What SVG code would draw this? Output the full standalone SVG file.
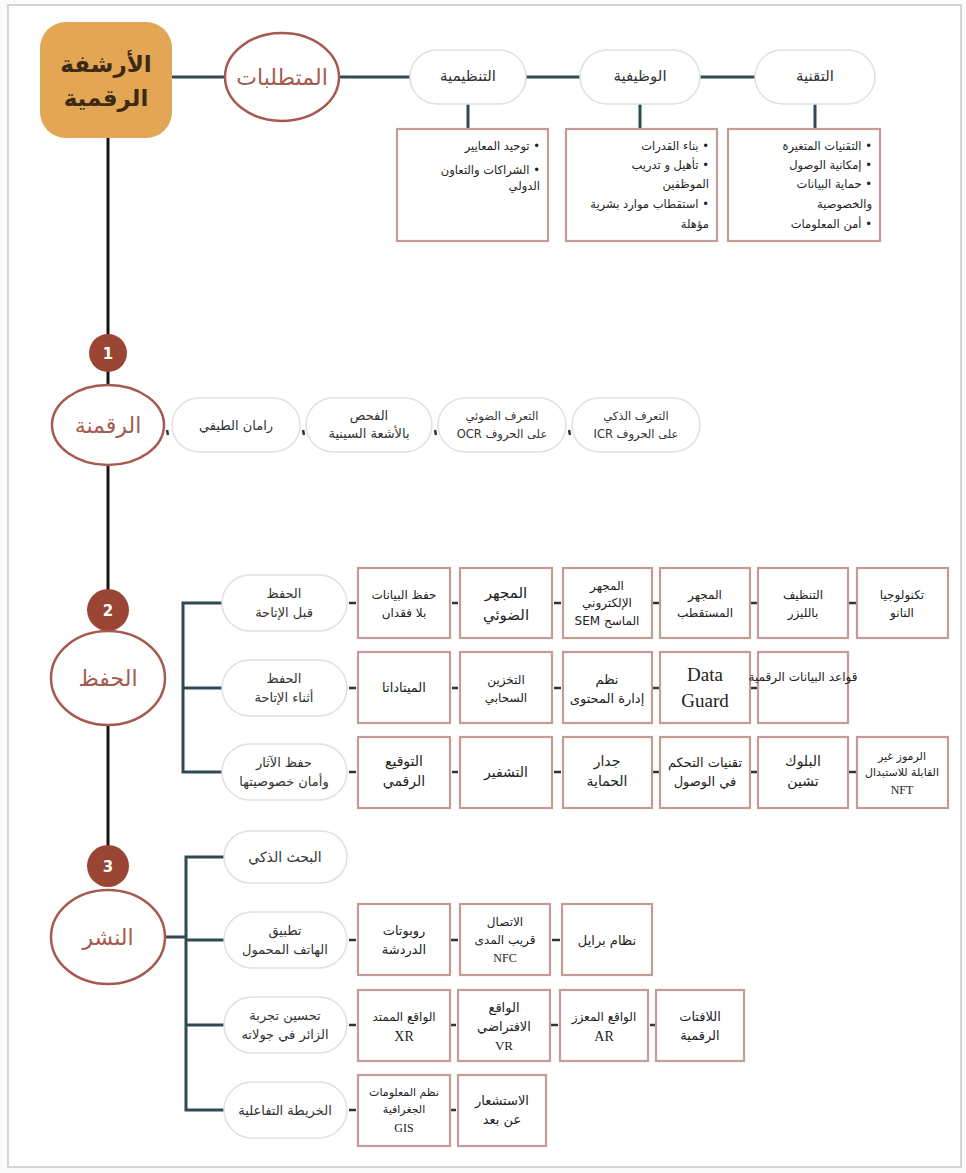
<svg xmlns="http://www.w3.org/2000/svg" width="966" height="1173" viewBox="0 0 966 1173">
<style>
text{font-family:"DejaVu Sans","Noto Sans",sans-serif;direction:rtl;text-anchor:middle}
.t{fill:#222;font-size:12px}
.p{fill:#333;font-size:13px}
.lat{font-family:"Liberation Serif",serif}
.pill{fill:#fff;stroke:#e0e0e0;stroke-width:1.5}
.box{fill:#fff;stroke:#c49b95;stroke-width:2.2}
.ell{fill:#fff;stroke:#a65a4f;stroke-width:2.5}
.et{fill:#a65a4f;font-size:22px}
.num{fill:#9b4634}
.nt{fill:#fff;font-size:15px;font-weight:bold}
.c{stroke:#2f4a53;stroke-width:3;fill:none}
.d{stroke:#333;stroke-width:2.5}
.sp{stroke:#151515;stroke-width:3}
.rq{font-size:11.5px;fill:#222;text-anchor:start}
</style>
<rect x="0" y="0" width="966" height="1173" fill="#fafafa"/>
<rect x="8" y="5" width="953" height="1162" fill="#fff" stroke="#d4d4d4" stroke-width="2"/>

<g id="connectors">
<line class="sp" x1="108" y1="138" x2="108" y2="866"/>
<line class="c" x1="172" y1="77" x2="225" y2="77"/>
<line class="c" x1="339" y1="77" x2="410" y2="77"/>
<line class="c" x1="526" y1="77" x2="580" y2="77"/>
<line class="c" x1="700" y1="77" x2="755" y2="77"/>
<line class="c" x1="468" y1="104" x2="468" y2="129"/>
<line class="c" x1="640" y1="104" x2="640" y2="129"/>
<line class="c" x1="815" y1="104" x2="815" y2="129"/>
<!-- digitization ticks -->
<line class="d" x1="167" y1="430" x2="168" y2="435"/>
<line class="d" x1="303" y1="430" x2="304" y2="435"/>
<line class="d" x1="435" y1="430" x2="436" y2="435"/>
<line class="d" x1="569" y1="430" x2="570" y2="435"/>
<!-- preservation bracket -->
<path class="c" d="M222 603 H183 V772 H222 M183 688 H222"/>
<!-- publishing bracket -->
<path class="c" d="M224 857 H186 V1110 H224 M186 940 H224 M186 1025 H224 M165 937 H186"/>
<!-- dashes rows -->
<g class="d">
<line x1="349" y1="603" x2="356" y2="603"/><line x1="452" y1="603" x2="458" y2="603"/><line x1="554" y1="603" x2="561" y2="603"/><line x1="653" y1="603" x2="659" y2="603"/><line x1="751" y1="603" x2="757" y2="603"/><line x1="849" y1="603" x2="856" y2="603"/>
<line x1="349" y1="688" x2="356" y2="688"/><line x1="452" y1="688" x2="458" y2="688"/><line x1="554" y1="688" x2="561" y2="688"/><line x1="653" y1="688" x2="659" y2="688"/><line x1="751" y1="688" x2="757" y2="688"/>
<line x1="349" y1="772" x2="356" y2="772"/><line x1="452" y1="772" x2="458" y2="772"/><line x1="554" y1="772" x2="561" y2="772"/><line x1="653" y1="772" x2="659" y2="772"/><line x1="751" y1="772" x2="757" y2="772"/><line x1="849" y1="772" x2="856" y2="772"/>
<line x1="349" y1="940" x2="356" y2="940"/><line x1="450" y1="940" x2="458" y2="940"/><line x1="552" y1="940" x2="560" y2="940"/>
<line x1="349" y1="1025" x2="356" y2="1025"/><line x1="450" y1="1025" x2="456" y2="1025"/><line x1="550" y1="1025" x2="558" y2="1025"/><line x1="650" y1="1025" x2="655" y2="1025"/>
<line x1="349" y1="1110" x2="356" y2="1110"/><line x1="450" y1="1110" x2="456" y2="1110"/>
</g>
</g>

<g id="root">
<rect x="40" y="22" width="132" height="116" rx="26" fill="#e2a655"/>
<text x="106" y="72" style="font-size:23px;font-weight:bold;fill:#3e2a14">الأرشفة</text>
<text x="106" y="106" style="font-size:23px;font-weight:bold;fill:#3e2a14">الرقمية</text>
</g>

<g id="requirements">
<ellipse class="ell" cx="282" cy="77" rx="57" ry="44"/>
<text class="et" x="282" y="85">المتطلبات</text>
</g>
<g id="req-org"><rect class="pill" x="410" y="50" width="116" height="54" rx="27"/><text class="p" x="468" y="81" style="font-size:15px">التنظيمية</text></g>
<g id="req-func"><rect class="pill" x="580" y="50" width="120" height="54" rx="27"/><text class="p" x="640" y="81" style="font-size:15px">الوظيفية</text></g>
<g id="req-tech"><rect class="pill" x="755" y="50" width="120" height="54" rx="27"/><text class="p" x="815" y="81" style="font-size:15px">التقنية</text></g>

<g id="req-org-box"><rect class="box" x="397" y="129" width="151" height="112"/>
<text class="rq" x="540" y="150">• توحيد المعايير</text>
<text class="rq" x="540" y="174">• الشراكات والتعاون</text>
<text class="rq" x="540" y="190">الدولي</text></g>
<g id="req-func-box"><rect class="box" x="566" y="129" width="151" height="112"/>
<text class="rq" x="709" y="150">• بناء القدرات</text>
<text class="rq" x="709" y="169">• تأهيل و تدريب</text>
<text class="rq" x="709" y="188">الموظفين</text>
<text class="rq" x="709" y="208">• استقطاب موارد بشرية</text>
<text class="rq" x="709" y="228">مؤهلة</text></g>
<g id="req-tech-box"><rect class="box" x="728" y="129" width="152" height="112"/>
<text class="rq" x="872" y="150">• التقنيات المتغيرة</text>
<text class="rq" x="872" y="169">• إمكانية الوصول</text>
<text class="rq" x="872" y="188">• حماية البيانات</text>
<text class="rq" x="872" y="208">والخصوصية</text>
<text class="rq" x="872" y="228">• أمن المعلومات</text></g>

<g id="step1"><circle class="num" cx="108" cy="353" r="19"/><text class="nt" x="108" y="359">1</text></g>
<g id="digitization"><ellipse class="ell" cx="108" cy="425" rx="56" ry="40"/><text class="et" x="108" y="433">الرقمنة</text></g>
<g id="dig-raman"><rect class="pill" x="172" y="398" width="128" height="54" rx="27"/><text class="p" x="236" y="430">رامان الطيفي</text></g>
<g id="dig-xray"><rect class="pill" x="306" y="398" width="126" height="54" rx="27"/><text class="p" x="369" y="420">الفحص</text><text class="p" x="369" y="438">بالأشعة السينية</text></g>
<g id="dig-ocr"><rect class="pill" x="438" y="398" width="128" height="54" rx="27"/><text class="p" x="502" y="420" style="font-size:11.5px">التعرف الضوئي</text><text class="p" x="502" y="438" style="font-size:11.5px">على الحروف OCR</text></g>
<g id="dig-icr"><rect class="pill" x="572" y="398" width="128" height="54" rx="27"/><text class="p" x="636" y="420" style="font-size:11.5px">التعرف الذكي</text><text class="p" x="636" y="438" style="font-size:11.5px">على الحروف ICR</text></g>

<g id="step2"><circle class="num" cx="108" cy="610" r="21"/><text class="nt" x="108" y="616">2</text></g>
<g id="preservation"><ellipse class="ell" cx="108" cy="678" rx="57" ry="47"/><text class="et" x="108" y="686">الحفظ</text></g>
<g id="pres-before"><rect class="pill" x="222" y="575" width="125" height="56" rx="28"/><text class="p" x="284" y="598">الحفظ</text><text class="p" x="284" y="617">قبل الإتاحة</text></g>
<g id="pres-during"><rect class="pill" x="222" y="660" width="125" height="56" rx="28"/><text class="p" x="284" y="683">الحفظ</text><text class="p" x="284" y="702">أثناء الإتاحة</text></g>
<g id="pres-security"><rect class="pill" x="222" y="744" width="125" height="56" rx="28"/><text class="p" x="284" y="767">حفظ الآثار</text><text class="p" x="284" y="786">وأمان خصوصيتها</text></g>

<g id="b-lossless"><rect class="box" x="358" y="568" width="92" height="70"/><text class="t" x="404" y="599">حفظ البيانات</text><text class="t" x="404" y="617">بلا فقدان</text></g>
<g id="b-optical"><rect class="box" x="460" y="568" width="92" height="70"/><text class="t" x="506" y="598" style="font-size:15px">المجهر</text><text class="t" x="506" y="620" style="font-size:15px">الضوئي</text></g>
<g id="b-sem"><rect class="box" x="563" y="568" width="89" height="70"/><text class="t" x="607" y="590">المجهر</text><text class="t" x="607" y="607">الإلكتروني</text><text class="t" x="607" y="625">الماسح SEM</text></g>
<g id="b-polar"><rect class="box" x="660" y="568" width="90" height="70"/><text class="t" x="705" y="599">المجهر</text><text class="t" x="705" y="617">المستقطب</text></g>
<g id="b-laser"><rect class="box" x="758" y="568" width="90" height="70"/><text class="t" x="803" y="599">التنظيف</text><text class="t" x="803" y="617">بالليزر</text></g>
<g id="b-nano"><rect class="box" x="857" y="568" width="91" height="70"/><text class="t" x="902" y="599">تكنولوجيا</text><text class="t" x="902" y="617">النانو</text></g>

<g id="b-meta"><rect class="box" x="358" y="652" width="92" height="71"/><text class="t" x="404" y="692" style="font-size:13px">الميتاداتا</text></g>
<g id="b-cloud"><rect class="box" x="460" y="652" width="92" height="71"/><text class="t" x="506" y="684">التخزين</text><text class="t" x="506" y="702">السحابي</text></g>
<g id="b-cms"><rect class="box" x="563" y="652" width="89" height="71"/><text class="t" x="607" y="684" style="font-size:13px">نظم</text><text class="t" x="607" y="703" style="font-size:13px">إدارة المحتوى</text></g>
<g id="b-dataguard"><rect class="box" x="660" y="652" width="90" height="71"/><text class="t lat" x="705" y="681" style="font-size:19px;direction:ltr">Data</text><text class="t lat" x="705" y="707" style="font-size:19px;direction:ltr">Guard</text></g>
<g id="b-db"><rect class="box" x="758" y="652" width="90" height="71"/><text class="t" x="803" y="681">قواعد البيانات الرقمية</text></g>

<g id="b-sign"><rect class="box" x="358" y="737" width="92" height="71"/><text class="t" x="404" y="766" style="font-size:14px">التوقيع</text><text class="t" x="404" y="786" style="font-size:14px">الرقمي</text></g>
<g id="b-crypt"><rect class="box" x="460" y="737" width="92" height="71"/><text class="t" x="506" y="777" style="font-size:14px">التشفير</text></g>
<g id="b-firewall"><rect class="box" x="563" y="737" width="89" height="71"/><text class="t" x="607" y="766" style="font-size:14px">جدار</text><text class="t" x="607" y="786" style="font-size:14px">الحماية</text></g>
<g id="b-access"><rect class="box" x="660" y="737" width="90" height="71"/><text class="t" x="705" y="767" style="font-size:13px">تقنيات التحكم</text><text class="t" x="705" y="786" style="font-size:13px">في الوصول</text></g>
<g id="b-blockchain"><rect class="box" x="758" y="737" width="90" height="71"/><text class="t" x="803" y="766" style="font-size:14px">البلوك</text><text class="t" x="803" y="786" style="font-size:14px">تشين</text></g>
<g id="b-nft"><rect class="box" x="857" y="737" width="91" height="71"/><text class="t" x="902" y="760" style="font-size:11px">الرموز غير</text><text class="t" x="902" y="776" style="font-size:11px">القابلة للاستبدال</text><text class="t lat" x="902" y="794" style="font-size:12px">NFT</text></g>

<g id="step3"><circle class="num" cx="108" cy="866" r="21"/><text class="nt" x="108" y="872">3</text></g>
<g id="publishing"><ellipse class="ell" cx="108" cy="937" rx="57" ry="47"/><text class="et" x="108" y="945">النشر</text></g>
<g id="pub-search"><rect class="pill" x="224" y="831" width="123" height="52" rx="26"/><text class="p" x="285" y="862" style="font-size:14px">البحث الذكي</text></g>
<g id="pub-app"><rect class="pill" x="224" y="912" width="123" height="56" rx="28"/><text class="p" x="285" y="935">تطبيق</text><text class="p" x="285" y="954">الهاتف المحمول</text></g>
<g id="pub-visitor"><rect class="pill" x="224" y="997" width="123" height="56" rx="28"/><text class="p" x="285" y="1020">تحسين تجربة</text><text class="p" x="285" y="1039">الزائر في جولاته</text></g>
<g id="pub-map"><rect class="pill" x="224" y="1082" width="123" height="56" rx="28"/><text class="p" x="285" y="1115">الخريطة التفاعلية</text></g>

<g id="b-chat"><rect class="box" x="358" y="904" width="92" height="71"/><text class="t" x="404" y="935" style="font-size:13px">روبوتات</text><text class="t" x="404" y="954" style="font-size:13px">الدردشة</text></g>
<g id="b-nfc"><rect class="box" x="460" y="904" width="90" height="71"/><text class="t" x="505" y="926">الاتصال</text><text class="t" x="505" y="944">قريب المدى</text><text class="t lat" x="505" y="962" style="font-size:12px">NFC</text></g>
<g id="b-braille"><rect class="box" x="562" y="904" width="90" height="71"/><text class="t" x="607" y="945" style="font-size:13px">نظام برايل</text></g>

<g id="b-xr"><rect class="box" x="358" y="990" width="92" height="71"/><text class="t" x="404" y="1021">الواقع الممتد</text><text class="t lat" x="404" y="1041" style="font-size:14px">XR</text></g>
<g id="b-vr"><rect class="box" x="458" y="990" width="92" height="71"/><text class="t" x="504" y="1012" style="font-size:13px">الواقع</text><text class="t" x="504" y="1031" style="font-size:13px">الافتراضي</text><text class="t lat" x="504" y="1050" style="font-size:13px">VR</text></g>
<g id="b-ar"><rect class="box" x="560" y="990" width="88" height="71"/><text class="t" x="604" y="1021">الواقع المعزز</text><text class="t lat" x="604" y="1041" style="font-size:14px">AR</text></g>
<g id="b-signage"><rect class="box" x="656" y="990" width="88" height="71"/><text class="t" x="700" y="1021" style="font-size:13px">اللافتات</text><text class="t" x="700" y="1040" style="font-size:13px">الرقمية</text></g>

<g id="b-gis"><rect class="box" x="358" y="1075" width="92" height="71"/><text class="t" x="404" y="1096" style="font-size:11px">نظم المعلومات</text><text class="t" x="404" y="1113" style="font-size:11px">الجغرافية</text><text class="t lat" x="404" y="1132" style="font-size:12px">GIS</text></g>
<g id="b-remote"><rect class="box" x="458" y="1075" width="88" height="71"/><text class="t" x="502" y="1105" style="font-size:13px">الاستشعار</text><text class="t" x="502" y="1124" style="font-size:13px">عن بعد</text></g>
</svg>
